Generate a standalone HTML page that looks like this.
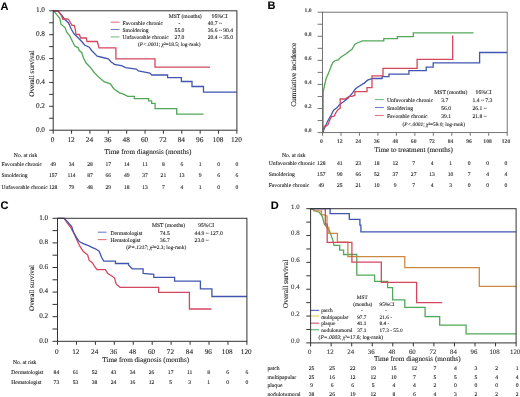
<!DOCTYPE html>
<html><head><meta charset="utf-8"><style>
html,body{margin:0;padding:0;background:#fff;}
body{width:520px;height:397px;overflow:hidden;font-family:"Liberation Serif",serif;}
svg{display:block;filter:blur(0.35px);}
text{stroke:#1a1a1a;stroke-width:0.1px;paint-order:stroke;}
</style></head><body>
<svg width="520" height="397" viewBox="0 0 520 397" text-rendering="geometricPrecision">
<rect width="520" height="397" fill="#fff"/>
<text x="0.50" y="9.50" font-size="11" text-anchor="start" fill="#000" font-family="Liberation Sans" font-weight="bold" >A</text>
<line x1="49.20" y1="130.20" x2="53.20" y2="130.20" stroke="#333" stroke-width="1" stroke-opacity="1"/>
<text x="45.00" y="131.60" font-size="7.3" text-anchor="end" fill="#1a1a1a" font-family="Liberation Serif" font-weight="normal" >0.0</text>
<line x1="49.20" y1="118.26" x2="53.20" y2="118.26" stroke="#333" stroke-width="1" stroke-opacity="1"/>
<line x1="49.20" y1="106.32" x2="53.20" y2="106.32" stroke="#333" stroke-width="1" stroke-opacity="1"/>
<text x="45.00" y="107.72" font-size="7.3" text-anchor="end" fill="#1a1a1a" font-family="Liberation Serif" font-weight="normal" >0.2</text>
<line x1="49.20" y1="94.38" x2="53.20" y2="94.38" stroke="#333" stroke-width="1" stroke-opacity="1"/>
<line x1="49.20" y1="82.44" x2="53.20" y2="82.44" stroke="#333" stroke-width="1" stroke-opacity="1"/>
<text x="45.00" y="83.84" font-size="7.3" text-anchor="end" fill="#1a1a1a" font-family="Liberation Serif" font-weight="normal" >0.4</text>
<line x1="49.20" y1="70.50" x2="53.20" y2="70.50" stroke="#333" stroke-width="1" stroke-opacity="1"/>
<line x1="49.20" y1="58.56" x2="53.20" y2="58.56" stroke="#333" stroke-width="1" stroke-opacity="1"/>
<text x="45.00" y="59.96" font-size="7.3" text-anchor="end" fill="#1a1a1a" font-family="Liberation Serif" font-weight="normal" >0.6</text>
<line x1="49.20" y1="46.62" x2="53.20" y2="46.62" stroke="#333" stroke-width="1" stroke-opacity="1"/>
<line x1="49.20" y1="34.68" x2="53.20" y2="34.68" stroke="#333" stroke-width="1" stroke-opacity="1"/>
<text x="45.00" y="36.08" font-size="7.3" text-anchor="end" fill="#1a1a1a" font-family="Liberation Serif" font-weight="normal" >0.8</text>
<line x1="49.20" y1="22.74" x2="53.20" y2="22.74" stroke="#333" stroke-width="1" stroke-opacity="1"/>
<line x1="49.20" y1="10.80" x2="53.20" y2="10.80" stroke="#333" stroke-width="1" stroke-opacity="1"/>
<text x="45.00" y="12.20" font-size="7.3" text-anchor="end" fill="#1a1a1a" font-family="Liberation Serif" font-weight="normal" >1.0</text>
<line x1="53.20" y1="130.20" x2="53.20" y2="133.70" stroke="#333" stroke-width="1" stroke-opacity="1"/>
<text x="52.70" y="142.30" font-size="7.3" text-anchor="middle" fill="#1a1a1a" font-family="Liberation Serif" font-weight="normal" >0</text>
<line x1="71.57" y1="130.20" x2="71.57" y2="133.70" stroke="#333" stroke-width="1" stroke-opacity="1"/>
<text x="71.07" y="142.30" font-size="7.3" text-anchor="middle" fill="#1a1a1a" font-family="Liberation Serif" font-weight="normal" >12</text>
<line x1="89.94" y1="130.20" x2="89.94" y2="133.70" stroke="#333" stroke-width="1" stroke-opacity="1"/>
<text x="89.44" y="142.30" font-size="7.3" text-anchor="middle" fill="#1a1a1a" font-family="Liberation Serif" font-weight="normal" >24</text>
<line x1="108.31" y1="130.20" x2="108.31" y2="133.70" stroke="#333" stroke-width="1" stroke-opacity="1"/>
<text x="107.81" y="142.30" font-size="7.3" text-anchor="middle" fill="#1a1a1a" font-family="Liberation Serif" font-weight="normal" >36</text>
<line x1="126.68" y1="130.20" x2="126.68" y2="133.70" stroke="#333" stroke-width="1" stroke-opacity="1"/>
<text x="126.18" y="142.30" font-size="7.3" text-anchor="middle" fill="#1a1a1a" font-family="Liberation Serif" font-weight="normal" >48</text>
<line x1="145.05" y1="130.20" x2="145.05" y2="133.70" stroke="#333" stroke-width="1" stroke-opacity="1"/>
<text x="144.55" y="142.30" font-size="7.3" text-anchor="middle" fill="#1a1a1a" font-family="Liberation Serif" font-weight="normal" >60</text>
<line x1="163.42" y1="130.20" x2="163.42" y2="133.70" stroke="#333" stroke-width="1" stroke-opacity="1"/>
<text x="162.92" y="142.30" font-size="7.3" text-anchor="middle" fill="#1a1a1a" font-family="Liberation Serif" font-weight="normal" >72</text>
<line x1="181.79" y1="130.20" x2="181.79" y2="133.70" stroke="#333" stroke-width="1" stroke-opacity="1"/>
<text x="181.29" y="142.30" font-size="7.3" text-anchor="middle" fill="#1a1a1a" font-family="Liberation Serif" font-weight="normal" >84</text>
<line x1="200.16" y1="130.20" x2="200.16" y2="133.70" stroke="#333" stroke-width="1" stroke-opacity="1"/>
<text x="199.66" y="142.30" font-size="7.3" text-anchor="middle" fill="#1a1a1a" font-family="Liberation Serif" font-weight="normal" >96</text>
<line x1="218.53" y1="130.20" x2="218.53" y2="133.70" stroke="#333" stroke-width="1" stroke-opacity="1"/>
<text x="218.03" y="142.30" font-size="7.3" text-anchor="middle" fill="#1a1a1a" font-family="Liberation Serif" font-weight="normal" >108</text>
<line x1="236.90" y1="130.20" x2="236.90" y2="133.70" stroke="#333" stroke-width="1" stroke-opacity="1"/>
<text x="236.40" y="142.30" font-size="7.3" text-anchor="middle" fill="#1a1a1a" font-family="Liberation Serif" font-weight="normal" >120</text>
<text x="0.00" y="0.00" font-size="7.2" text-anchor="middle" fill="#1a1a1a" font-family="Liberation Serif" font-weight="normal" transform="translate(33.80,73.50) rotate(-90)">Overall survival</text>
<text x="148.00" y="153.90" font-size="7.15" text-anchor="middle" fill="#1a1a1a" font-family="Liberation Serif" font-weight="normal" >Time from diagnosis (months)</text>
<path d="M53.2,10.8 L53.5,10.5 L56.9,14.9 L59.8,18.4 L61.0,24.2 L65.0,27.6 L66.7,32.2 L69.6,35.7 L72.5,41.5 L74.8,46.0 L78.3,47.8 L79.2,50.5 L81.7,52.4 L83.3,57.5 L86.1,63.0 L90.2,67.2 L94.4,72.7 L99.3,77.6 L104.1,81.7 L110.3,83.8 L113.8,88.7 L119.4,92.8 L123.5,94.2 L127.7,96.3 L134.3,96.4 L134.3,98.7 L148.7,98.7 L148.7,100.8 L151.6,100.8 L151.6,103.4 L155.1,103.4 L155.1,108.6 L176.7,108.6 L176.7,114.1 L203.6,114.1" fill="none" stroke="#52a858" stroke-width="1.3" stroke-linejoin="miter"/>
<path d="M53.2,10.8 L58.0,10.8 L61.5,14.9 L64.4,19.0 L68.5,23.0 L71.3,29.3 L74.2,34.0 L78.3,38.0 L81.7,41.5 L84.6,45.0 L89.2,47.2 L91.6,50.5 L97.2,56.1 L102.7,57.5 L108.3,58.9 L111.4,62.3 L113.8,63.7 L114.1,64.3 L121.5,65.7 L125.6,67.7 L136.3,69.0 L138.4,71.0 L149.8,73.0 L151.8,75.0 L167.6,75.0 L167.6,77.6 L181.4,77.6 L181.4,81.5 L192.0,81.5 L192.0,86.5 L203.5,86.5 L203.5,92.1 L236.9,92.1" fill="none" stroke="#4156b0" stroke-width="1.3" stroke-linejoin="miter"/>
<path d="M53.2,10.8 L58.0,10.8 L61.5,15.5 L62.7,19.0 L67.3,19.0 L68.5,19.5 L70.2,22.4 L72.0,25.3 L74.2,25.3 L75.4,29.9 L76.0,34.5 L79.4,34.5 L80.6,38.0 L86.3,38.0 L87.0,41.5 L97.3,41.5 L99.0,47.8 L115.9,47.8 L115.9,58.9 L155.0,58.9 L155.0,67.1 L210.0,67.1" fill="none" stroke="#d4475f" stroke-width="1.3" stroke-linejoin="miter"/>
<line x1="110.70" y1="22.20" x2="119.50" y2="22.20" stroke="#d4475f" stroke-width="1.1" stroke-opacity="0.75"/>
<line x1="110.70" y1="29.50" x2="119.50" y2="29.50" stroke="#4156b0" stroke-width="1.1" stroke-opacity="0.75"/>
<line x1="110.70" y1="36.90" x2="119.50" y2="36.90" stroke="#52a858" stroke-width="1.1" stroke-opacity="0.75"/>
<text x="185.20" y="18.20" font-size="5.6" text-anchor="middle" fill="#1a1a1a" font-family="Liberation Serif" font-weight="normal" >MST (months)</text>
<text x="219.80" y="18.20" font-size="5.6" text-anchor="middle" fill="#1a1a1a" font-family="Liberation Serif" font-weight="normal" >95%CI</text>
<text x="122.50" y="24.70" font-size="5.6" text-anchor="start" fill="#1a1a1a" font-family="Liberation Serif" font-weight="normal" >Favorable chronic</text>
<text x="179.50" y="24.70" font-size="5.6" text-anchor="middle" fill="#1a1a1a" font-family="Liberation Serif" font-weight="normal" >-</text>
<text x="207.70" y="24.70" font-size="5.6" text-anchor="start" fill="#1a1a1a" font-family="Liberation Serif" font-weight="normal" >40.7 ~</text>
<text x="122.50" y="32.00" font-size="5.6" text-anchor="start" fill="#1a1a1a" font-family="Liberation Serif" font-weight="normal" >Smoldering</text>
<text x="179.50" y="32.00" font-size="5.6" text-anchor="middle" fill="#1a1a1a" font-family="Liberation Serif" font-weight="normal" >55.0</text>
<text x="207.70" y="32.00" font-size="5.6" text-anchor="start" fill="#1a1a1a" font-family="Liberation Serif" font-weight="normal" >36.6 ~ 90.4</text>
<text x="122.50" y="39.40" font-size="5.6" text-anchor="start" fill="#1a1a1a" font-family="Liberation Serif" font-weight="normal" >Unfavorable chronic</text>
<text x="179.50" y="39.40" font-size="5.6" text-anchor="middle" fill="#1a1a1a" font-family="Liberation Serif" font-weight="normal" >27.0</text>
<text x="207.70" y="39.40" font-size="5.6" text-anchor="start" fill="#1a1a1a" font-family="Liberation Serif" font-weight="normal" >20.4 ~ 35.0</text>
<text x="138.00" y="46.00" font-size="5.35" fill="#1a1a1a" font-family="Liberation Serif">(<tspan font-style="italic">P&lt;.0001</tspan>; <tspan font-style="italic">χ</tspan>²=18.5; log-rank)</text>
<text x="1.50" y="165.80" font-size="5.6" text-anchor="start" fill="#1a1a1a" font-family="Liberation Serif" font-weight="normal" >Favorable chronic</text>
<text x="53.20" y="165.80" font-size="5.6" text-anchor="middle" fill="#1a1a1a" font-family="Liberation Serif" font-weight="normal" >49</text>
<text x="71.57" y="165.80" font-size="5.6" text-anchor="middle" fill="#1a1a1a" font-family="Liberation Serif" font-weight="normal" >34</text>
<text x="89.94" y="165.80" font-size="5.6" text-anchor="middle" fill="#1a1a1a" font-family="Liberation Serif" font-weight="normal" >28</text>
<text x="108.31" y="165.80" font-size="5.6" text-anchor="middle" fill="#1a1a1a" font-family="Liberation Serif" font-weight="normal" >17</text>
<text x="126.68" y="165.80" font-size="5.6" text-anchor="middle" fill="#1a1a1a" font-family="Liberation Serif" font-weight="normal" >14</text>
<text x="145.05" y="165.80" font-size="5.6" text-anchor="middle" fill="#1a1a1a" font-family="Liberation Serif" font-weight="normal" >11</text>
<text x="163.42" y="165.80" font-size="5.6" text-anchor="middle" fill="#1a1a1a" font-family="Liberation Serif" font-weight="normal" >8</text>
<text x="181.79" y="165.80" font-size="5.6" text-anchor="middle" fill="#1a1a1a" font-family="Liberation Serif" font-weight="normal" >6</text>
<text x="200.16" y="165.80" font-size="5.6" text-anchor="middle" fill="#1a1a1a" font-family="Liberation Serif" font-weight="normal" >1</text>
<text x="218.53" y="165.80" font-size="5.6" text-anchor="middle" fill="#1a1a1a" font-family="Liberation Serif" font-weight="normal" >0</text>
<text x="236.90" y="165.80" font-size="5.6" text-anchor="middle" fill="#1a1a1a" font-family="Liberation Serif" font-weight="normal" >0</text>
<text x="1.50" y="177.00" font-size="5.6" text-anchor="start" fill="#1a1a1a" font-family="Liberation Serif" font-weight="normal" >Smoldering</text>
<text x="53.20" y="177.00" font-size="5.6" text-anchor="middle" fill="#1a1a1a" font-family="Liberation Serif" font-weight="normal" >157</text>
<text x="71.57" y="177.00" font-size="5.6" text-anchor="middle" fill="#1a1a1a" font-family="Liberation Serif" font-weight="normal" >114</text>
<text x="89.94" y="177.00" font-size="5.6" text-anchor="middle" fill="#1a1a1a" font-family="Liberation Serif" font-weight="normal" >87</text>
<text x="108.31" y="177.00" font-size="5.6" text-anchor="middle" fill="#1a1a1a" font-family="Liberation Serif" font-weight="normal" >66</text>
<text x="126.68" y="177.00" font-size="5.6" text-anchor="middle" fill="#1a1a1a" font-family="Liberation Serif" font-weight="normal" >49</text>
<text x="145.05" y="177.00" font-size="5.6" text-anchor="middle" fill="#1a1a1a" font-family="Liberation Serif" font-weight="normal" >37</text>
<text x="163.42" y="177.00" font-size="5.6" text-anchor="middle" fill="#1a1a1a" font-family="Liberation Serif" font-weight="normal" >21</text>
<text x="181.79" y="177.00" font-size="5.6" text-anchor="middle" fill="#1a1a1a" font-family="Liberation Serif" font-weight="normal" >13</text>
<text x="200.16" y="177.00" font-size="5.6" text-anchor="middle" fill="#1a1a1a" font-family="Liberation Serif" font-weight="normal" >9</text>
<text x="218.53" y="177.00" font-size="5.6" text-anchor="middle" fill="#1a1a1a" font-family="Liberation Serif" font-weight="normal" >6</text>
<text x="236.90" y="177.00" font-size="5.6" text-anchor="middle" fill="#1a1a1a" font-family="Liberation Serif" font-weight="normal" >6</text>
<text x="1.50" y="188.60" font-size="5.6" text-anchor="start" fill="#1a1a1a" font-family="Liberation Serif" font-weight="normal" >Unfavorable chronic</text>
<text x="53.20" y="188.60" font-size="5.6" text-anchor="middle" fill="#1a1a1a" font-family="Liberation Serif" font-weight="normal" >128</text>
<text x="71.57" y="188.60" font-size="5.6" text-anchor="middle" fill="#1a1a1a" font-family="Liberation Serif" font-weight="normal" >79</text>
<text x="89.94" y="188.60" font-size="5.6" text-anchor="middle" fill="#1a1a1a" font-family="Liberation Serif" font-weight="normal" >48</text>
<text x="108.31" y="188.60" font-size="5.6" text-anchor="middle" fill="#1a1a1a" font-family="Liberation Serif" font-weight="normal" >29</text>
<text x="126.68" y="188.60" font-size="5.6" text-anchor="middle" fill="#1a1a1a" font-family="Liberation Serif" font-weight="normal" >18</text>
<text x="145.05" y="188.60" font-size="5.6" text-anchor="middle" fill="#1a1a1a" font-family="Liberation Serif" font-weight="normal" >13</text>
<text x="163.42" y="188.60" font-size="5.6" text-anchor="middle" fill="#1a1a1a" font-family="Liberation Serif" font-weight="normal" >7</text>
<text x="181.79" y="188.60" font-size="5.6" text-anchor="middle" fill="#1a1a1a" font-family="Liberation Serif" font-weight="normal" >4</text>
<text x="200.16" y="188.60" font-size="5.6" text-anchor="middle" fill="#1a1a1a" font-family="Liberation Serif" font-weight="normal" >1</text>
<text x="218.53" y="188.60" font-size="5.6" text-anchor="middle" fill="#1a1a1a" font-family="Liberation Serif" font-weight="normal" >0</text>
<text x="236.90" y="188.60" font-size="5.6" text-anchor="middle" fill="#1a1a1a" font-family="Liberation Serif" font-weight="normal" >0</text>
<text x="25.60" y="157.00" font-size="5.6" text-anchor="middle" fill="#1a1a1a" font-family="Liberation Serif" font-weight="normal" >No. at risk</text>
<text x="267.60" y="8.90" font-size="11" text-anchor="start" fill="#000" font-family="Liberation Sans" font-weight="bold" >B</text>
<line x1="317.60" y1="132.60" x2="322.50" y2="132.60" stroke="#666" stroke-width="0.9" stroke-opacity="1"/>
<text x="311.60" y="132.40" font-size="5.6" text-anchor="end" fill="#555" font-family="Liberation Serif" font-weight="bold" >0.0</text>
<line x1="317.60" y1="120.56" x2="322.50" y2="120.56" stroke="#666" stroke-width="0.9" stroke-opacity="1"/>
<line x1="317.60" y1="108.52" x2="322.50" y2="108.52" stroke="#666" stroke-width="0.9" stroke-opacity="1"/>
<text x="311.60" y="108.32" font-size="5.6" text-anchor="end" fill="#555" font-family="Liberation Serif" font-weight="bold" >0.2</text>
<line x1="317.60" y1="96.48" x2="322.50" y2="96.48" stroke="#666" stroke-width="0.9" stroke-opacity="1"/>
<line x1="317.60" y1="84.44" x2="322.50" y2="84.44" stroke="#666" stroke-width="0.9" stroke-opacity="1"/>
<text x="311.60" y="84.24" font-size="5.6" text-anchor="end" fill="#555" font-family="Liberation Serif" font-weight="bold" >0.4</text>
<line x1="317.60" y1="72.40" x2="322.50" y2="72.40" stroke="#666" stroke-width="0.9" stroke-opacity="1"/>
<line x1="317.60" y1="60.36" x2="322.50" y2="60.36" stroke="#666" stroke-width="0.9" stroke-opacity="1"/>
<text x="311.60" y="60.16" font-size="5.6" text-anchor="end" fill="#555" font-family="Liberation Serif" font-weight="bold" >0.6</text>
<line x1="317.60" y1="48.32" x2="322.50" y2="48.32" stroke="#666" stroke-width="0.9" stroke-opacity="1"/>
<line x1="317.60" y1="36.28" x2="322.50" y2="36.28" stroke="#666" stroke-width="0.9" stroke-opacity="1"/>
<text x="311.60" y="36.08" font-size="5.6" text-anchor="end" fill="#555" font-family="Liberation Serif" font-weight="bold" >0.8</text>
<line x1="317.60" y1="24.24" x2="322.50" y2="24.24" stroke="#666" stroke-width="0.9" stroke-opacity="1"/>
<line x1="317.60" y1="12.20" x2="322.50" y2="12.20" stroke="#666" stroke-width="0.9" stroke-opacity="1"/>
<text x="311.60" y="12.00" font-size="5.6" text-anchor="end" fill="#555" font-family="Liberation Serif" font-weight="bold" >1.0</text>
<line x1="322.50" y1="132.60" x2="322.50" y2="135.80" stroke="#666" stroke-width="0.9" stroke-opacity="1"/>
<text x="321.30" y="142.60" font-size="5.6" text-anchor="middle" fill="#555" font-family="Liberation Serif" font-weight="bold" >0</text>
<line x1="340.97" y1="132.60" x2="340.97" y2="135.80" stroke="#666" stroke-width="0.9" stroke-opacity="1"/>
<text x="339.77" y="142.60" font-size="5.6" text-anchor="middle" fill="#555" font-family="Liberation Serif" font-weight="bold" >12</text>
<line x1="359.44" y1="132.60" x2="359.44" y2="135.80" stroke="#666" stroke-width="0.9" stroke-opacity="1"/>
<text x="358.24" y="142.60" font-size="5.6" text-anchor="middle" fill="#555" font-family="Liberation Serif" font-weight="bold" >24</text>
<line x1="377.91" y1="132.60" x2="377.91" y2="135.80" stroke="#666" stroke-width="0.9" stroke-opacity="1"/>
<text x="376.71" y="142.60" font-size="5.6" text-anchor="middle" fill="#555" font-family="Liberation Serif" font-weight="bold" >36</text>
<line x1="396.38" y1="132.60" x2="396.38" y2="135.80" stroke="#666" stroke-width="0.9" stroke-opacity="1"/>
<text x="395.18" y="142.60" font-size="5.6" text-anchor="middle" fill="#555" font-family="Liberation Serif" font-weight="bold" >48</text>
<line x1="414.85" y1="132.60" x2="414.85" y2="135.80" stroke="#666" stroke-width="0.9" stroke-opacity="1"/>
<text x="413.65" y="142.60" font-size="5.6" text-anchor="middle" fill="#555" font-family="Liberation Serif" font-weight="bold" >60</text>
<line x1="433.32" y1="132.60" x2="433.32" y2="135.80" stroke="#666" stroke-width="0.9" stroke-opacity="1"/>
<text x="432.12" y="142.60" font-size="5.6" text-anchor="middle" fill="#555" font-family="Liberation Serif" font-weight="bold" >72</text>
<line x1="451.79" y1="132.60" x2="451.79" y2="135.80" stroke="#666" stroke-width="0.9" stroke-opacity="1"/>
<text x="450.59" y="142.60" font-size="5.6" text-anchor="middle" fill="#555" font-family="Liberation Serif" font-weight="bold" >84</text>
<line x1="470.26" y1="132.60" x2="470.26" y2="135.80" stroke="#666" stroke-width="0.9" stroke-opacity="1"/>
<text x="469.06" y="142.60" font-size="5.6" text-anchor="middle" fill="#555" font-family="Liberation Serif" font-weight="bold" >96</text>
<line x1="488.73" y1="132.60" x2="488.73" y2="135.80" stroke="#666" stroke-width="0.9" stroke-opacity="1"/>
<text x="487.53" y="142.60" font-size="5.6" text-anchor="middle" fill="#555" font-family="Liberation Serif" font-weight="bold" >108</text>
<line x1="507.20" y1="132.60" x2="507.20" y2="135.80" stroke="#666" stroke-width="0.9" stroke-opacity="1"/>
<text x="506.00" y="142.60" font-size="5.6" text-anchor="middle" fill="#555" font-family="Liberation Serif" font-weight="bold" >120</text>
<text x="0.00" y="0.00" font-size="7.34" text-anchor="middle" fill="#1a1a1a" font-family="Liberation Serif" font-weight="normal" transform="translate(296.40,74.80) rotate(-90)">Cumulative incidence</text>
<text x="413.70" y="152.20" font-size="7.16" text-anchor="middle" fill="#1a1a1a" font-family="Liberation Serif" font-weight="normal" >Time to treatment (months)</text>
<path d="M322.5,132.6 L323.0,132.6 L323.2,92.3 L324.3,86.5 L326.1,78.5 L329.0,72.1 L331.3,65.8 L333.0,62.3 L335.3,60.6 L338.2,59.8 L341.1,56.9 L345.7,54.0 L349.2,51.2 L352.0,49.4 L354.9,44.2 L358.4,42.5 L362.4,40.8 L383.8,40.8 L383.8,38.7 L397.3,38.7 L397.3,36.6 L413.3,36.6 L413.3,32.8 L473.5,32.8" fill="none" stroke="#52a858" stroke-width="1.3" stroke-linejoin="miter"/>
<path d="M322.5,132.6 L325.0,127.2 L327.6,121.2 L330.6,116.2 L333.6,110.1 L336.6,108.1 L339.7,104.6 L343.2,102.0 L348.2,98.0 L352.6,92.9 L355.5,88.8 L359.5,86.0 L364.2,83.1 L367.6,80.2 L372.6,78.5 L382.1,78.5 L382.1,76.7 L389.0,76.7 L389.0,74.1 L408.9,74.1 L408.9,70.7 L426.2,70.7 L426.2,67.2 L433.2,67.2 L433.2,62.9 L479.6,62.9 L479.6,52.5 L507.2,52.5" fill="none" stroke="#4156b0" stroke-width="1.3" stroke-linejoin="miter"/>
<path d="M322.5,132.6 L324.0,126.2 L326.0,126.2 L328.0,124.7 L330.1,119.2 L331.6,116.7 L334.1,116.2 L335.6,113.1 L337.6,110.1 L340.2,108.1 L340.2,99.0 L345.2,99.0 L349.2,96.3 L352.0,96.3 L354.9,95.2 L354.9,91.7 L367.0,91.7 L367.0,87.7 L372.0,87.7 L372.0,75.9 L383.0,75.9 L383.0,68.4 L417.1,68.4 L417.1,59.4 L452.7,59.4 L452.7,35.5" fill="none" stroke="#d4475f" stroke-width="1.3" stroke-linejoin="miter"/>
<line x1="375.00" y1="99.50" x2="383.80" y2="99.50" stroke="#52a858" stroke-width="1.1" stroke-opacity="0.75"/>
<line x1="375.00" y1="107.50" x2="383.80" y2="107.50" stroke="#4156b0" stroke-width="1.1" stroke-opacity="0.75"/>
<line x1="375.00" y1="115.50" x2="383.80" y2="115.50" stroke="#d4475f" stroke-width="1.1" stroke-opacity="0.75"/>
<text x="450.80" y="94.00" font-size="5.6" text-anchor="middle" fill="#1a1a1a" font-family="Liberation Serif" font-weight="normal" >MST (months)</text>
<text x="483.80" y="94.00" font-size="5.6" text-anchor="middle" fill="#1a1a1a" font-family="Liberation Serif" font-weight="normal" >95%CI</text>
<text x="387.00" y="101.90" font-size="5.6" text-anchor="start" fill="#1a1a1a" font-family="Liberation Serif" font-weight="normal" >Unfavorable chronic</text>
<text x="441.30" y="101.90" font-size="5.6" text-anchor="start" fill="#1a1a1a" font-family="Liberation Serif" font-weight="normal" >3.7</text>
<text x="472.50" y="101.90" font-size="5.6" text-anchor="start" fill="#1a1a1a" font-family="Liberation Serif" font-weight="normal" >1.4 ~ 7.3</text>
<text x="387.00" y="109.90" font-size="5.6" text-anchor="start" fill="#1a1a1a" font-family="Liberation Serif" font-weight="normal" >Smoldering</text>
<text x="441.30" y="109.90" font-size="5.6" text-anchor="start" fill="#1a1a1a" font-family="Liberation Serif" font-weight="normal" >56.0</text>
<text x="472.50" y="109.90" font-size="5.6" text-anchor="start" fill="#1a1a1a" font-family="Liberation Serif" font-weight="normal" >26.1 ~</text>
<text x="387.00" y="117.90" font-size="5.6" text-anchor="start" fill="#1a1a1a" font-family="Liberation Serif" font-weight="normal" >Favorable chronic</text>
<text x="441.30" y="117.90" font-size="5.6" text-anchor="start" fill="#1a1a1a" font-family="Liberation Serif" font-weight="normal" >39.1</text>
<text x="472.50" y="117.90" font-size="5.6" text-anchor="start" fill="#1a1a1a" font-family="Liberation Serif" font-weight="normal" >21.8 ~</text>
<text x="402.50" y="126.20" font-size="5.35" fill="#1a1a1a" font-family="Liberation Serif">(<tspan font-style="italic">P&lt;.0001</tspan>; <tspan font-style="italic">χ</tspan>²=59.0; log-rank)</text>
<text x="268.75" y="164.80" font-size="5.6" text-anchor="start" fill="#1a1a1a" font-family="Liberation Serif" font-weight="normal" >Unfavorable chronic</text>
<text x="321.30" y="164.80" font-size="5.6" text-anchor="middle" fill="#1a1a1a" font-family="Liberation Serif" font-weight="normal" >128</text>
<text x="339.77" y="164.80" font-size="5.6" text-anchor="middle" fill="#1a1a1a" font-family="Liberation Serif" font-weight="normal" >41</text>
<text x="358.24" y="164.80" font-size="5.6" text-anchor="middle" fill="#1a1a1a" font-family="Liberation Serif" font-weight="normal" >23</text>
<text x="376.71" y="164.80" font-size="5.6" text-anchor="middle" fill="#1a1a1a" font-family="Liberation Serif" font-weight="normal" >18</text>
<text x="395.18" y="164.80" font-size="5.6" text-anchor="middle" fill="#1a1a1a" font-family="Liberation Serif" font-weight="normal" >12</text>
<text x="413.65" y="164.80" font-size="5.6" text-anchor="middle" fill="#1a1a1a" font-family="Liberation Serif" font-weight="normal" >7</text>
<text x="432.12" y="164.80" font-size="5.6" text-anchor="middle" fill="#1a1a1a" font-family="Liberation Serif" font-weight="normal" >4</text>
<text x="450.59" y="164.80" font-size="5.6" text-anchor="middle" fill="#1a1a1a" font-family="Liberation Serif" font-weight="normal" >1</text>
<text x="469.06" y="164.80" font-size="5.6" text-anchor="middle" fill="#1a1a1a" font-family="Liberation Serif" font-weight="normal" >0</text>
<text x="487.53" y="164.80" font-size="5.6" text-anchor="middle" fill="#1a1a1a" font-family="Liberation Serif" font-weight="normal" >0</text>
<text x="506.00" y="164.80" font-size="5.6" text-anchor="middle" fill="#1a1a1a" font-family="Liberation Serif" font-weight="normal" >0</text>
<text x="268.75" y="175.60" font-size="5.6" text-anchor="start" fill="#1a1a1a" font-family="Liberation Serif" font-weight="normal" >Smoldering</text>
<text x="321.30" y="175.60" font-size="5.6" text-anchor="middle" fill="#1a1a1a" font-family="Liberation Serif" font-weight="normal" >157</text>
<text x="339.77" y="175.60" font-size="5.6" text-anchor="middle" fill="#1a1a1a" font-family="Liberation Serif" font-weight="normal" >90</text>
<text x="358.24" y="175.60" font-size="5.6" text-anchor="middle" fill="#1a1a1a" font-family="Liberation Serif" font-weight="normal" >66</text>
<text x="376.71" y="175.60" font-size="5.6" text-anchor="middle" fill="#1a1a1a" font-family="Liberation Serif" font-weight="normal" >52</text>
<text x="395.18" y="175.60" font-size="5.6" text-anchor="middle" fill="#1a1a1a" font-family="Liberation Serif" font-weight="normal" >37</text>
<text x="413.65" y="175.60" font-size="5.6" text-anchor="middle" fill="#1a1a1a" font-family="Liberation Serif" font-weight="normal" >27</text>
<text x="432.12" y="175.60" font-size="5.6" text-anchor="middle" fill="#1a1a1a" font-family="Liberation Serif" font-weight="normal" >13</text>
<text x="450.59" y="175.60" font-size="5.6" text-anchor="middle" fill="#1a1a1a" font-family="Liberation Serif" font-weight="normal" >10</text>
<text x="469.06" y="175.60" font-size="5.6" text-anchor="middle" fill="#1a1a1a" font-family="Liberation Serif" font-weight="normal" >7</text>
<text x="487.53" y="175.60" font-size="5.6" text-anchor="middle" fill="#1a1a1a" font-family="Liberation Serif" font-weight="normal" >4</text>
<text x="506.00" y="175.60" font-size="5.6" text-anchor="middle" fill="#1a1a1a" font-family="Liberation Serif" font-weight="normal" >4</text>
<text x="268.75" y="186.90" font-size="5.6" text-anchor="start" fill="#1a1a1a" font-family="Liberation Serif" font-weight="normal" >Favorable chronic</text>
<text x="321.30" y="186.90" font-size="5.6" text-anchor="middle" fill="#1a1a1a" font-family="Liberation Serif" font-weight="normal" >49</text>
<text x="339.77" y="186.90" font-size="5.6" text-anchor="middle" fill="#1a1a1a" font-family="Liberation Serif" font-weight="normal" >25</text>
<text x="358.24" y="186.90" font-size="5.6" text-anchor="middle" fill="#1a1a1a" font-family="Liberation Serif" font-weight="normal" >21</text>
<text x="376.71" y="186.90" font-size="5.6" text-anchor="middle" fill="#1a1a1a" font-family="Liberation Serif" font-weight="normal" >10</text>
<text x="395.18" y="186.90" font-size="5.6" text-anchor="middle" fill="#1a1a1a" font-family="Liberation Serif" font-weight="normal" >9</text>
<text x="413.65" y="186.90" font-size="5.6" text-anchor="middle" fill="#1a1a1a" font-family="Liberation Serif" font-weight="normal" >7</text>
<text x="432.12" y="186.90" font-size="5.6" text-anchor="middle" fill="#1a1a1a" font-family="Liberation Serif" font-weight="normal" >4</text>
<text x="450.59" y="186.90" font-size="5.6" text-anchor="middle" fill="#1a1a1a" font-family="Liberation Serif" font-weight="normal" >3</text>
<text x="469.06" y="186.90" font-size="5.6" text-anchor="middle" fill="#1a1a1a" font-family="Liberation Serif" font-weight="normal" >0</text>
<text x="487.53" y="186.90" font-size="5.6" text-anchor="middle" fill="#1a1a1a" font-family="Liberation Serif" font-weight="normal" >0</text>
<text x="506.00" y="186.90" font-size="5.6" text-anchor="middle" fill="#1a1a1a" font-family="Liberation Serif" font-weight="normal" >0</text>
<text x="293.80" y="156.60" font-size="5.6" text-anchor="middle" fill="#1a1a1a" font-family="Liberation Serif" font-weight="normal" >No. at risk</text>
<text x="0.40" y="208.50" font-size="11" text-anchor="start" fill="#000" font-family="Liberation Sans" font-weight="bold" >C</text>
<line x1="52.50" y1="341.30" x2="57.50" y2="341.30" stroke="#333" stroke-width="1" stroke-opacity="1"/>
<text x="48.20" y="342.50" font-size="7.2" text-anchor="end" fill="#1a1a1a" font-family="Liberation Serif" font-weight="normal" >0.0</text>
<line x1="52.50" y1="329.00" x2="57.50" y2="329.00" stroke="#333" stroke-width="1" stroke-opacity="1"/>
<line x1="52.50" y1="316.70" x2="57.50" y2="316.70" stroke="#333" stroke-width="1" stroke-opacity="1"/>
<text x="48.20" y="317.90" font-size="7.2" text-anchor="end" fill="#1a1a1a" font-family="Liberation Serif" font-weight="normal" >0.2</text>
<line x1="52.50" y1="304.40" x2="57.50" y2="304.40" stroke="#333" stroke-width="1" stroke-opacity="1"/>
<line x1="52.50" y1="292.10" x2="57.50" y2="292.10" stroke="#333" stroke-width="1" stroke-opacity="1"/>
<text x="48.20" y="293.30" font-size="7.2" text-anchor="end" fill="#1a1a1a" font-family="Liberation Serif" font-weight="normal" >0.4</text>
<line x1="52.50" y1="279.80" x2="57.50" y2="279.80" stroke="#333" stroke-width="1" stroke-opacity="1"/>
<line x1="52.50" y1="267.50" x2="57.50" y2="267.50" stroke="#333" stroke-width="1" stroke-opacity="1"/>
<text x="48.20" y="268.70" font-size="7.2" text-anchor="end" fill="#1a1a1a" font-family="Liberation Serif" font-weight="normal" >0.6</text>
<line x1="52.50" y1="255.20" x2="57.50" y2="255.20" stroke="#333" stroke-width="1" stroke-opacity="1"/>
<line x1="52.50" y1="242.90" x2="57.50" y2="242.90" stroke="#333" stroke-width="1" stroke-opacity="1"/>
<text x="48.20" y="244.10" font-size="7.2" text-anchor="end" fill="#1a1a1a" font-family="Liberation Serif" font-weight="normal" >0.8</text>
<line x1="52.50" y1="230.60" x2="57.50" y2="230.60" stroke="#333" stroke-width="1" stroke-opacity="1"/>
<line x1="52.50" y1="218.30" x2="57.50" y2="218.30" stroke="#333" stroke-width="1" stroke-opacity="1"/>
<text x="48.20" y="219.50" font-size="7.2" text-anchor="end" fill="#1a1a1a" font-family="Liberation Serif" font-weight="normal" >1.0</text>
<line x1="57.50" y1="341.30" x2="57.50" y2="344.80" stroke="#333" stroke-width="1" stroke-opacity="1"/>
<text x="56.80" y="353.90" font-size="7.2" text-anchor="middle" fill="#1a1a1a" font-family="Liberation Serif" font-weight="normal" >0</text>
<line x1="76.44" y1="341.30" x2="76.44" y2="344.80" stroke="#333" stroke-width="1" stroke-opacity="1"/>
<text x="75.74" y="353.90" font-size="7.2" text-anchor="middle" fill="#1a1a1a" font-family="Liberation Serif" font-weight="normal" >12</text>
<line x1="95.38" y1="341.30" x2="95.38" y2="344.80" stroke="#333" stroke-width="1" stroke-opacity="1"/>
<text x="94.68" y="353.90" font-size="7.2" text-anchor="middle" fill="#1a1a1a" font-family="Liberation Serif" font-weight="normal" >24</text>
<line x1="114.32" y1="341.30" x2="114.32" y2="344.80" stroke="#333" stroke-width="1" stroke-opacity="1"/>
<text x="113.62" y="353.90" font-size="7.2" text-anchor="middle" fill="#1a1a1a" font-family="Liberation Serif" font-weight="normal" >36</text>
<line x1="133.26" y1="341.30" x2="133.26" y2="344.80" stroke="#333" stroke-width="1" stroke-opacity="1"/>
<text x="132.56" y="353.90" font-size="7.2" text-anchor="middle" fill="#1a1a1a" font-family="Liberation Serif" font-weight="normal" >48</text>
<line x1="152.20" y1="341.30" x2="152.20" y2="344.80" stroke="#333" stroke-width="1" stroke-opacity="1"/>
<text x="151.50" y="353.90" font-size="7.2" text-anchor="middle" fill="#1a1a1a" font-family="Liberation Serif" font-weight="normal" >60</text>
<line x1="171.14" y1="341.30" x2="171.14" y2="344.80" stroke="#333" stroke-width="1" stroke-opacity="1"/>
<text x="170.44" y="353.90" font-size="7.2" text-anchor="middle" fill="#1a1a1a" font-family="Liberation Serif" font-weight="normal" >72</text>
<line x1="190.08" y1="341.30" x2="190.08" y2="344.80" stroke="#333" stroke-width="1" stroke-opacity="1"/>
<text x="189.38" y="353.90" font-size="7.2" text-anchor="middle" fill="#1a1a1a" font-family="Liberation Serif" font-weight="normal" >84</text>
<line x1="209.02" y1="341.30" x2="209.02" y2="344.80" stroke="#333" stroke-width="1" stroke-opacity="1"/>
<text x="208.32" y="353.90" font-size="7.2" text-anchor="middle" fill="#1a1a1a" font-family="Liberation Serif" font-weight="normal" >96</text>
<line x1="227.96" y1="341.30" x2="227.96" y2="344.80" stroke="#333" stroke-width="1" stroke-opacity="1"/>
<text x="227.26" y="353.90" font-size="7.2" text-anchor="middle" fill="#1a1a1a" font-family="Liberation Serif" font-weight="normal" >108</text>
<line x1="246.90" y1="341.30" x2="246.90" y2="344.80" stroke="#333" stroke-width="1" stroke-opacity="1"/>
<text x="246.20" y="353.90" font-size="7.2" text-anchor="middle" fill="#1a1a1a" font-family="Liberation Serif" font-weight="normal" >120</text>
<text x="0.00" y="0.00" font-size="7.1" text-anchor="middle" fill="#1a1a1a" font-family="Liberation Serif" font-weight="normal" transform="translate(33.60,288.00) rotate(-90)">Overall survival</text>
<text x="145.70" y="362.30" font-size="7.15" text-anchor="middle" fill="#1a1a1a" font-family="Liberation Serif" font-weight="normal" >Time from diagnosis (months)</text>
<path d="M57.5,218.3 L64.2,218.3 L66.5,221.9 L70.0,226.5 L73.5,232.3 L77.5,241.5 L79.8,246.2 L83.1,251.2 L87.7,255.0 L89.2,260.4 L92.3,262.7 L94.6,266.5 L96.9,269.6 L105.4,269.6 L107.7,273.5 L111.5,275.8 L114.6,278.1 L116.2,284.2 L120.0,287.3 L158.7,287.3 L158.7,292.3 L189.4,292.3 L189.4,309.0 L211.5,309.0" fill="none" stroke="#d4475f" stroke-width="1.3" stroke-linejoin="miter"/>
<path d="M57.5,218.3 L64.2,218.3 L67.7,221.9 L71.7,226.5 L73.5,232.3 L77.5,239.2 L79.2,241.5 L83.8,243.8 L88.5,245.6 L91.9,247.3 L95.4,248.8 L99.2,251.2 L101.5,257.3 L103.8,261.2 L115.4,261.2 L115.4,263.5 L128.5,263.5 L128.5,265.0 L132.3,268.8 L143.1,268.8 L143.1,273.5 L153.8,274.4 L153.8,277.3 L174.6,277.3 L174.6,281.2 L200.4,281.2 L200.4,288.8 L211.9,288.8 L211.9,296.5 L246.9,296.5" fill="none" stroke="#4156b0" stroke-width="1.3" stroke-linejoin="miter"/>
<line x1="97.70" y1="232.20" x2="106.60" y2="232.20" stroke="#4156b0" stroke-width="1.1" stroke-opacity="0.75"/>
<line x1="97.70" y1="239.60" x2="106.60" y2="239.60" stroke="#d4475f" stroke-width="1.1" stroke-opacity="0.75"/>
<text x="168.50" y="227.40" font-size="5.6" text-anchor="middle" fill="#1a1a1a" font-family="Liberation Serif" font-weight="normal" >MST (months)</text>
<text x="206.20" y="227.40" font-size="5.6" text-anchor="middle" fill="#1a1a1a" font-family="Liberation Serif" font-weight="normal" >95%CI</text>
<text x="110.40" y="234.50" font-size="5.6" text-anchor="start" fill="#1a1a1a" font-family="Liberation Serif" font-weight="normal" >Dermatologist</text>
<text x="160.00" y="234.50" font-size="5.6" text-anchor="start" fill="#1a1a1a" font-family="Liberation Serif" font-weight="normal" >74.5</text>
<text x="194.60" y="234.50" font-size="5.6" text-anchor="start" fill="#1a1a1a" font-family="Liberation Serif" font-weight="normal" >44.9 ~ 127.0</text>
<text x="110.40" y="241.90" font-size="5.6" text-anchor="start" fill="#1a1a1a" font-family="Liberation Serif" font-weight="normal" >Hematologist</text>
<text x="160.00" y="241.90" font-size="5.6" text-anchor="start" fill="#1a1a1a" font-family="Liberation Serif" font-weight="normal" >36.7</text>
<text x="194.60" y="241.90" font-size="5.6" text-anchor="start" fill="#1a1a1a" font-family="Liberation Serif" font-weight="normal" >23.0 ~</text>
<text x="126.30" y="248.60" font-size="5.35" fill="#1a1a1a" font-family="Liberation Serif">(<tspan font-style="italic">P=.1317</tspan>; <tspan font-style="italic">χ</tspan>²=2.3; log-rank)</text>
<text x="11.25" y="373.90" font-size="5.6" text-anchor="start" fill="#1a1a1a" font-family="Liberation Serif" font-weight="normal" >Dermatologist</text>
<text x="56.40" y="373.90" font-size="5.6" text-anchor="middle" fill="#1a1a1a" font-family="Liberation Serif" font-weight="normal" >84</text>
<text x="75.44" y="373.90" font-size="5.6" text-anchor="middle" fill="#1a1a1a" font-family="Liberation Serif" font-weight="normal" >61</text>
<text x="94.48" y="373.90" font-size="5.6" text-anchor="middle" fill="#1a1a1a" font-family="Liberation Serif" font-weight="normal" >52</text>
<text x="113.52" y="373.90" font-size="5.6" text-anchor="middle" fill="#1a1a1a" font-family="Liberation Serif" font-weight="normal" >43</text>
<text x="132.56" y="373.90" font-size="5.6" text-anchor="middle" fill="#1a1a1a" font-family="Liberation Serif" font-weight="normal" >34</text>
<text x="151.60" y="373.90" font-size="5.6" text-anchor="middle" fill="#1a1a1a" font-family="Liberation Serif" font-weight="normal" >26</text>
<text x="170.64" y="373.90" font-size="5.6" text-anchor="middle" fill="#1a1a1a" font-family="Liberation Serif" font-weight="normal" >17</text>
<text x="189.68" y="373.90" font-size="5.6" text-anchor="middle" fill="#1a1a1a" font-family="Liberation Serif" font-weight="normal" >11</text>
<text x="208.72" y="373.90" font-size="5.6" text-anchor="middle" fill="#1a1a1a" font-family="Liberation Serif" font-weight="normal" >8</text>
<text x="227.76" y="373.90" font-size="5.6" text-anchor="middle" fill="#1a1a1a" font-family="Liberation Serif" font-weight="normal" >6</text>
<text x="246.80" y="373.90" font-size="5.6" text-anchor="middle" fill="#1a1a1a" font-family="Liberation Serif" font-weight="normal" >6</text>
<text x="11.25" y="384.20" font-size="5.6" text-anchor="start" fill="#1a1a1a" font-family="Liberation Serif" font-weight="normal" >Hematologist</text>
<text x="56.40" y="384.20" font-size="5.6" text-anchor="middle" fill="#1a1a1a" font-family="Liberation Serif" font-weight="normal" >73</text>
<text x="75.44" y="384.20" font-size="5.6" text-anchor="middle" fill="#1a1a1a" font-family="Liberation Serif" font-weight="normal" >53</text>
<text x="94.48" y="384.20" font-size="5.6" text-anchor="middle" fill="#1a1a1a" font-family="Liberation Serif" font-weight="normal" >38</text>
<text x="113.52" y="384.20" font-size="5.6" text-anchor="middle" fill="#1a1a1a" font-family="Liberation Serif" font-weight="normal" >24</text>
<text x="132.56" y="384.20" font-size="5.6" text-anchor="middle" fill="#1a1a1a" font-family="Liberation Serif" font-weight="normal" >16</text>
<text x="151.60" y="384.20" font-size="5.6" text-anchor="middle" fill="#1a1a1a" font-family="Liberation Serif" font-weight="normal" >12</text>
<text x="170.64" y="384.20" font-size="5.6" text-anchor="middle" fill="#1a1a1a" font-family="Liberation Serif" font-weight="normal" >5</text>
<text x="189.68" y="384.20" font-size="5.6" text-anchor="middle" fill="#1a1a1a" font-family="Liberation Serif" font-weight="normal" >3</text>
<text x="208.72" y="384.20" font-size="5.6" text-anchor="middle" fill="#1a1a1a" font-family="Liberation Serif" font-weight="normal" >1</text>
<text x="227.76" y="384.20" font-size="5.6" text-anchor="middle" fill="#1a1a1a" font-family="Liberation Serif" font-weight="normal" >0</text>
<text x="246.80" y="384.20" font-size="5.6" text-anchor="middle" fill="#1a1a1a" font-family="Liberation Serif" font-weight="normal" >0</text>
<text x="24.70" y="364.00" font-size="5.6" text-anchor="middle" fill="#1a1a1a" font-family="Liberation Serif" font-weight="normal" >No. at risk</text>
<text x="270.80" y="209.20" font-size="11" text-anchor="start" fill="#000" font-family="Liberation Sans" font-weight="bold" >D</text>
<line x1="306.30" y1="342.90" x2="310.60" y2="342.90" stroke="#333" stroke-width="1" stroke-opacity="1"/>
<text x="299.60" y="342.70" font-size="6.8" text-anchor="end" fill="#333" font-family="Liberation Serif" font-weight="normal" >0.0</text>
<line x1="306.30" y1="329.48" x2="310.60" y2="329.48" stroke="#333" stroke-width="1" stroke-opacity="1"/>
<line x1="306.30" y1="316.06" x2="310.60" y2="316.06" stroke="#333" stroke-width="1" stroke-opacity="1"/>
<text x="299.60" y="315.86" font-size="6.8" text-anchor="end" fill="#333" font-family="Liberation Serif" font-weight="normal" >0.2</text>
<line x1="306.30" y1="302.64" x2="310.60" y2="302.64" stroke="#333" stroke-width="1" stroke-opacity="1"/>
<line x1="306.30" y1="289.22" x2="310.60" y2="289.22" stroke="#333" stroke-width="1" stroke-opacity="1"/>
<text x="299.60" y="289.02" font-size="6.8" text-anchor="end" fill="#333" font-family="Liberation Serif" font-weight="normal" >0.4</text>
<line x1="306.30" y1="275.80" x2="310.60" y2="275.80" stroke="#333" stroke-width="1" stroke-opacity="1"/>
<line x1="306.30" y1="262.38" x2="310.60" y2="262.38" stroke="#333" stroke-width="1" stroke-opacity="1"/>
<text x="299.60" y="262.18" font-size="6.8" text-anchor="end" fill="#333" font-family="Liberation Serif" font-weight="normal" >0.6</text>
<line x1="306.30" y1="248.96" x2="310.60" y2="248.96" stroke="#333" stroke-width="1" stroke-opacity="1"/>
<line x1="306.30" y1="235.54" x2="310.60" y2="235.54" stroke="#333" stroke-width="1" stroke-opacity="1"/>
<text x="299.60" y="235.34" font-size="6.8" text-anchor="end" fill="#333" font-family="Liberation Serif" font-weight="normal" >0.8</text>
<line x1="306.30" y1="222.12" x2="310.60" y2="222.12" stroke="#333" stroke-width="1" stroke-opacity="1"/>
<line x1="306.30" y1="208.70" x2="310.60" y2="208.70" stroke="#333" stroke-width="1" stroke-opacity="1"/>
<text x="299.60" y="208.50" font-size="6.8" text-anchor="end" fill="#333" font-family="Liberation Serif" font-weight="normal" >1.0</text>
<line x1="310.60" y1="342.90" x2="310.60" y2="346.40" stroke="#333" stroke-width="1" stroke-opacity="1"/>
<text x="309.60" y="354.00" font-size="6.8" text-anchor="middle" fill="#333" font-family="Liberation Serif" font-weight="normal" >0</text>
<line x1="331.15" y1="342.90" x2="331.15" y2="346.40" stroke="#333" stroke-width="1" stroke-opacity="1"/>
<text x="330.15" y="354.00" font-size="6.8" text-anchor="middle" fill="#333" font-family="Liberation Serif" font-weight="normal" >12</text>
<line x1="351.70" y1="342.90" x2="351.70" y2="346.40" stroke="#333" stroke-width="1" stroke-opacity="1"/>
<text x="350.70" y="354.00" font-size="6.8" text-anchor="middle" fill="#333" font-family="Liberation Serif" font-weight="normal" >24</text>
<line x1="372.25" y1="342.90" x2="372.25" y2="346.40" stroke="#333" stroke-width="1" stroke-opacity="1"/>
<text x="371.25" y="354.00" font-size="6.8" text-anchor="middle" fill="#333" font-family="Liberation Serif" font-weight="normal" >36</text>
<line x1="392.80" y1="342.90" x2="392.80" y2="346.40" stroke="#333" stroke-width="1" stroke-opacity="1"/>
<text x="391.80" y="354.00" font-size="6.8" text-anchor="middle" fill="#333" font-family="Liberation Serif" font-weight="normal" >48</text>
<line x1="413.35" y1="342.90" x2="413.35" y2="346.40" stroke="#333" stroke-width="1" stroke-opacity="1"/>
<text x="412.35" y="354.00" font-size="6.8" text-anchor="middle" fill="#333" font-family="Liberation Serif" font-weight="normal" >60</text>
<line x1="433.90" y1="342.90" x2="433.90" y2="346.40" stroke="#333" stroke-width="1" stroke-opacity="1"/>
<text x="432.90" y="354.00" font-size="6.8" text-anchor="middle" fill="#333" font-family="Liberation Serif" font-weight="normal" >72</text>
<line x1="454.45" y1="342.90" x2="454.45" y2="346.40" stroke="#333" stroke-width="1" stroke-opacity="1"/>
<text x="453.45" y="354.00" font-size="6.8" text-anchor="middle" fill="#333" font-family="Liberation Serif" font-weight="normal" >84</text>
<line x1="475.00" y1="342.90" x2="475.00" y2="346.40" stroke="#333" stroke-width="1" stroke-opacity="1"/>
<text x="474.00" y="354.00" font-size="6.8" text-anchor="middle" fill="#333" font-family="Liberation Serif" font-weight="normal" >96</text>
<line x1="495.55" y1="342.90" x2="495.55" y2="346.40" stroke="#333" stroke-width="1" stroke-opacity="1"/>
<text x="494.55" y="354.00" font-size="6.8" text-anchor="middle" fill="#333" font-family="Liberation Serif" font-weight="normal" >108</text>
<line x1="516.10" y1="342.90" x2="516.10" y2="346.40" stroke="#333" stroke-width="1" stroke-opacity="1"/>
<text x="515.10" y="354.00" font-size="6.8" text-anchor="middle" fill="#333" font-family="Liberation Serif" font-weight="normal" >120</text>
<text x="0.00" y="0.00" font-size="7.5" text-anchor="middle" fill="#1a1a1a" font-family="Liberation Serif" font-weight="normal" transform="translate(287.80,284.00) rotate(-90)">Overall survival</text>
<text x="417.30" y="361.40" font-size="7.15" text-anchor="middle" fill="#1a1a1a" font-family="Liberation Serif" font-weight="normal" >Time from diagnosis (months)</text>
<path d="M310.6,208.7 L315.7,211.0 L319.5,212.5 L322.4,216.5 L324.3,224.2 L329.2,230.0 L333.0,240.6 L334.0,245.4 L339.7,245.4 L339.7,250.2 L343.6,250.2 L343.6,254.5 L356.8,254.5 L356.8,275.2 L374.6,275.2 L374.6,281.3 L387.6,281.3 L387.6,287.6 L392.6,287.6 L392.6,299.9 L404.8,299.9 L404.8,307.4 L425.1,307.4 L425.1,316.7 L439.7,316.7 L439.7,325.1 L466.1,325.1 L466.1,333.8 L516.1,333.8" fill="none" stroke="#52a858" stroke-width="1.3" stroke-linejoin="miter"/>
<path d="M310.6,208.7 L313.8,208.7 L313.8,210.8 L321.5,210.8 L321.5,214.6 L323.0,214.6 L327.0,216.0 L327.0,227.5 L328.8,227.5 L328.8,233.3 L337.4,233.3 L337.4,242.2 L347.9,242.2 L347.9,256.6 L404.8,256.6 L404.8,267.7 L479.3,267.7 L479.3,286.3 L516.1,286.3" fill="none" stroke="#c98a40" stroke-width="1.3" stroke-linejoin="miter"/>
<path d="M310.6,208.7 L325.3,208.7 L325.3,224.2 L327.2,224.2 L327.2,242.4 L351.9,242.4 L351.9,262.1 L381.3,262.1 L381.3,282.3 L416.6,282.3 L416.6,302.6 L442.3,302.6" fill="none" stroke="#d4475f" stroke-width="1.3" stroke-linejoin="miter"/>
<path d="M310.6,208.7 L330.1,208.7 L330.1,213.7 L349.3,213.7 L349.3,219.4 L359.9,219.4 L359.9,225.2 L360.9,225.2 L360.9,231.9 L516.1,231.9" fill="none" stroke="#4156b0" stroke-width="1.3" stroke-linejoin="miter"/>
<line x1="310.50" y1="310.40" x2="319.20" y2="310.40" stroke="#4156b0" stroke-width="1.2" stroke-opacity="0.85"/>
<line x1="310.50" y1="316.00" x2="319.20" y2="316.00" stroke="#e8c84a" stroke-width="1.2" stroke-opacity="0.85"/>
<line x1="310.50" y1="323.20" x2="319.20" y2="323.20" stroke="#d4475f" stroke-width="1.2" stroke-opacity="0.85"/>
<line x1="310.50" y1="329.70" x2="319.20" y2="329.70" stroke="#52a858" stroke-width="1.2" stroke-opacity="0.85"/>
<text x="362.20" y="299.10" font-size="5.3" text-anchor="middle" fill="#1a1a1a" font-family="Liberation Serif" font-weight="normal" >MST</text>
<text x="362.70" y="306.00" font-size="5.3" text-anchor="middle" fill="#1a1a1a" font-family="Liberation Serif" font-weight="normal" >(months)</text>
<text x="387.00" y="306.00" font-size="5.3" text-anchor="middle" fill="#1a1a1a" font-family="Liberation Serif" font-weight="normal" >95%CI</text>
<text x="321.20" y="312.20" font-size="5.3" text-anchor="start" fill="#1a1a1a" font-family="Liberation Serif" font-weight="normal" >patch</text>
<text x="361.80" y="312.20" font-size="5.3" text-anchor="middle" fill="#1a1a1a" font-family="Liberation Serif" font-weight="normal" >-</text>
<text x="385.80" y="312.20" font-size="5.3" text-anchor="middle" fill="#1a1a1a" font-family="Liberation Serif" font-weight="normal" >-</text>
<text x="321.20" y="319.40" font-size="5.3" text-anchor="start" fill="#1a1a1a" font-family="Liberation Serif" font-weight="normal" >multipapular</text>
<text x="361.80" y="319.40" font-size="5.3" text-anchor="middle" fill="#1a1a1a" font-family="Liberation Serif" font-weight="normal" >97.7</text>
<text x="379.60" y="319.40" font-size="5.3" text-anchor="start" fill="#1a1a1a" font-family="Liberation Serif" font-weight="normal" >21.6 -</text>
<text x="321.20" y="325.10" font-size="5.3" text-anchor="start" fill="#1a1a1a" font-family="Liberation Serif" font-weight="normal" >plaque</text>
<text x="361.80" y="325.10" font-size="5.3" text-anchor="middle" fill="#1a1a1a" font-family="Liberation Serif" font-weight="normal" >41.1</text>
<text x="379.60" y="325.10" font-size="5.3" text-anchor="start" fill="#1a1a1a" font-family="Liberation Serif" font-weight="normal" >8.4 -</text>
<text x="321.20" y="331.50" font-size="5.3" text-anchor="start" fill="#1a1a1a" font-family="Liberation Serif" font-weight="normal" >nodulotumoral</text>
<text x="361.80" y="331.50" font-size="5.3" text-anchor="middle" fill="#1a1a1a" font-family="Liberation Serif" font-weight="normal" >37.1</text>
<text x="379.60" y="331.50" font-size="5.3" text-anchor="start" fill="#1a1a1a" font-family="Liberation Serif" font-weight="normal" >17.3 - 55.0</text>
<text x="318.60" y="338.80" font-size="5.5" fill="#1a1a1a" font-family="Liberation Serif">(<tspan font-style="italic">P=.0003</tspan>; <tspan font-style="italic">χ</tspan>²=17.6; log-rank)</text>
<text x="267.50" y="369.80" font-size="5.6" text-anchor="start" fill="#1a1a1a" font-family="Liberation Serif" font-weight="normal" >patch</text>
<text x="311.60" y="369.80" font-size="5.6" text-anchor="middle" fill="#1a1a1a" font-family="Liberation Serif" font-weight="normal" >25</text>
<text x="332.15" y="369.80" font-size="5.6" text-anchor="middle" fill="#1a1a1a" font-family="Liberation Serif" font-weight="normal" >25</text>
<text x="352.70" y="369.80" font-size="5.6" text-anchor="middle" fill="#1a1a1a" font-family="Liberation Serif" font-weight="normal" >22</text>
<text x="373.25" y="369.80" font-size="5.6" text-anchor="middle" fill="#1a1a1a" font-family="Liberation Serif" font-weight="normal" >19</text>
<text x="393.80" y="369.80" font-size="5.6" text-anchor="middle" fill="#1a1a1a" font-family="Liberation Serif" font-weight="normal" >15</text>
<text x="414.35" y="369.80" font-size="5.6" text-anchor="middle" fill="#1a1a1a" font-family="Liberation Serif" font-weight="normal" >12</text>
<text x="434.90" y="369.80" font-size="5.6" text-anchor="middle" fill="#1a1a1a" font-family="Liberation Serif" font-weight="normal" >7</text>
<text x="455.45" y="369.80" font-size="5.6" text-anchor="middle" fill="#1a1a1a" font-family="Liberation Serif" font-weight="normal" >4</text>
<text x="476.00" y="369.80" font-size="5.6" text-anchor="middle" fill="#1a1a1a" font-family="Liberation Serif" font-weight="normal" >3</text>
<text x="496.55" y="369.80" font-size="5.6" text-anchor="middle" fill="#1a1a1a" font-family="Liberation Serif" font-weight="normal" >2</text>
<text x="517.10" y="369.80" font-size="5.6" text-anchor="middle" fill="#1a1a1a" font-family="Liberation Serif" font-weight="normal" >1</text>
<text x="267.50" y="378.60" font-size="5.6" text-anchor="start" fill="#1a1a1a" font-family="Liberation Serif" font-weight="normal" >multipapular</text>
<text x="311.60" y="378.60" font-size="5.6" text-anchor="middle" fill="#1a1a1a" font-family="Liberation Serif" font-weight="normal" >25</text>
<text x="332.15" y="378.60" font-size="5.6" text-anchor="middle" fill="#1a1a1a" font-family="Liberation Serif" font-weight="normal" >16</text>
<text x="352.70" y="378.60" font-size="5.6" text-anchor="middle" fill="#1a1a1a" font-family="Liberation Serif" font-weight="normal" >12</text>
<text x="373.25" y="378.60" font-size="5.6" text-anchor="middle" fill="#1a1a1a" font-family="Liberation Serif" font-weight="normal" >12</text>
<text x="393.80" y="378.60" font-size="5.6" text-anchor="middle" fill="#1a1a1a" font-family="Liberation Serif" font-weight="normal" >10</text>
<text x="414.35" y="378.60" font-size="5.6" text-anchor="middle" fill="#1a1a1a" font-family="Liberation Serif" font-weight="normal" >7</text>
<text x="434.90" y="378.60" font-size="5.6" text-anchor="middle" fill="#1a1a1a" font-family="Liberation Serif" font-weight="normal" >5</text>
<text x="455.45" y="378.60" font-size="5.6" text-anchor="middle" fill="#1a1a1a" font-family="Liberation Serif" font-weight="normal" >5</text>
<text x="476.00" y="378.60" font-size="5.6" text-anchor="middle" fill="#1a1a1a" font-family="Liberation Serif" font-weight="normal" >5</text>
<text x="496.55" y="378.60" font-size="5.6" text-anchor="middle" fill="#1a1a1a" font-family="Liberation Serif" font-weight="normal" >4</text>
<text x="517.10" y="378.60" font-size="5.6" text-anchor="middle" fill="#1a1a1a" font-family="Liberation Serif" font-weight="normal" >4</text>
<text x="267.50" y="387.30" font-size="5.6" text-anchor="start" fill="#1a1a1a" font-family="Liberation Serif" font-weight="normal" >plaque</text>
<text x="311.60" y="387.30" font-size="5.6" text-anchor="middle" fill="#1a1a1a" font-family="Liberation Serif" font-weight="normal" >9</text>
<text x="332.15" y="387.30" font-size="5.6" text-anchor="middle" fill="#1a1a1a" font-family="Liberation Serif" font-weight="normal" >6</text>
<text x="352.70" y="387.30" font-size="5.6" text-anchor="middle" fill="#1a1a1a" font-family="Liberation Serif" font-weight="normal" >6</text>
<text x="373.25" y="387.30" font-size="5.6" text-anchor="middle" fill="#1a1a1a" font-family="Liberation Serif" font-weight="normal" >5</text>
<text x="393.80" y="387.30" font-size="5.6" text-anchor="middle" fill="#1a1a1a" font-family="Liberation Serif" font-weight="normal" >4</text>
<text x="414.35" y="387.30" font-size="5.6" text-anchor="middle" fill="#1a1a1a" font-family="Liberation Serif" font-weight="normal" >4</text>
<text x="434.90" y="387.30" font-size="5.6" text-anchor="middle" fill="#1a1a1a" font-family="Liberation Serif" font-weight="normal" >2</text>
<text x="455.45" y="387.30" font-size="5.6" text-anchor="middle" fill="#1a1a1a" font-family="Liberation Serif" font-weight="normal" >0</text>
<text x="476.00" y="387.30" font-size="5.6" text-anchor="middle" fill="#1a1a1a" font-family="Liberation Serif" font-weight="normal" >0</text>
<text x="496.55" y="387.30" font-size="5.6" text-anchor="middle" fill="#1a1a1a" font-family="Liberation Serif" font-weight="normal" >0</text>
<text x="517.10" y="387.30" font-size="5.6" text-anchor="middle" fill="#1a1a1a" font-family="Liberation Serif" font-weight="normal" >0</text>
<text x="267.50" y="395.80" font-size="5.6" text-anchor="start" fill="#1a1a1a" font-family="Liberation Serif" font-weight="normal" >nodulotumoral</text>
<text x="311.60" y="395.80" font-size="5.6" text-anchor="middle" fill="#1a1a1a" font-family="Liberation Serif" font-weight="normal" >38</text>
<text x="332.15" y="395.80" font-size="5.6" text-anchor="middle" fill="#1a1a1a" font-family="Liberation Serif" font-weight="normal" >26</text>
<text x="352.70" y="395.80" font-size="5.6" text-anchor="middle" fill="#1a1a1a" font-family="Liberation Serif" font-weight="normal" >19</text>
<text x="373.25" y="395.80" font-size="5.6" text-anchor="middle" fill="#1a1a1a" font-family="Liberation Serif" font-weight="normal" >12</text>
<text x="393.80" y="395.80" font-size="5.6" text-anchor="middle" fill="#1a1a1a" font-family="Liberation Serif" font-weight="normal" >8</text>
<text x="414.35" y="395.80" font-size="5.6" text-anchor="middle" fill="#1a1a1a" font-family="Liberation Serif" font-weight="normal" >6</text>
<text x="434.90" y="395.80" font-size="5.6" text-anchor="middle" fill="#1a1a1a" font-family="Liberation Serif" font-weight="normal" >4</text>
<text x="455.45" y="395.80" font-size="5.6" text-anchor="middle" fill="#1a1a1a" font-family="Liberation Serif" font-weight="normal" >3</text>
<text x="476.00" y="395.80" font-size="5.6" text-anchor="middle" fill="#1a1a1a" font-family="Liberation Serif" font-weight="normal" >2</text>
<text x="496.55" y="395.80" font-size="5.6" text-anchor="middle" fill="#1a1a1a" font-family="Liberation Serif" font-weight="normal" >2</text>
<text x="517.10" y="395.80" font-size="5.6" text-anchor="middle" fill="#1a1a1a" font-family="Liberation Serif" font-weight="normal" >2</text>
<rect x="53.20" y="10.80" width="183.70" height="119.40" fill="none" stroke="#333" stroke-width="1"/>
<rect x="322.50" y="12.20" width="184.70" height="120.40" fill="none" stroke="#666" stroke-width="0.9"/>
<rect x="57.50" y="218.30" width="189.40" height="123.00" fill="none" stroke="#333" stroke-width="1"/>
<rect x="310.60" y="208.70" width="205.50" height="134.20" fill="none" stroke="#333" stroke-width="1"/>
</svg>
</body></html>
